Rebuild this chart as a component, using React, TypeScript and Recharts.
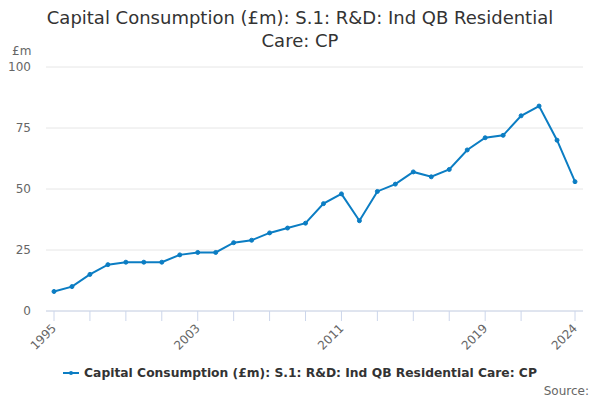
import React from "react";
import { LineChart, Line, XAxis, YAxis, CartesianGrid } from "recharts";

const years = [
  1995, 1996, 1997, 1998, 1999, 2000, 2001, 2002, 2003, 2004,
  2005, 2006, 2007, 2008, 2009, 2010, 2011, 2012, 2013, 2014,
  2015, 2016, 2017, 2018, 2019, 2020, 2021, 2022, 2023, 2024,
];
const values = [
  8, 10, 15, 19, 20, 20, 20, 23, 24, 24,
  28, 29, 32, 34, 36, 44, 48, 37, 49, 52,
  57, 55, 58, 66, 71, 72, 80, 84, 70, 53,
];
const xTicks = [1995, 1997, 1999, 2001, 2003, 2005, 2007, 2009, 2011, 2013, 2015, 2017, 2019, 2021, 2024];
const xLabels = [1995, 2003, 2011, 2019, 2024];
const yTicks = [0, 25, 50, 75, 100];

const SERIES = "Capital Consumption (£m): S.1: R&D: Ind QB Residential Care: CP";
const BLUE = "#0b7dc3";
const FONT = "'DejaVu Sans', sans-serif";

const data = years.map((y, i) => ({ year: y, value: values[i] }));

function XTick(props: any) {
  const { x, y, payload } = props;
  const show = xLabels.includes(payload.value);
  return (
    <g>
      <line x1={x} y1={y - 8} x2={x} y2={y + 2} stroke="#ccd6eb" />
      {show && (
        <text
          x={x + 3}
          y={y + 10}
          transform={`rotate(-45, ${x + 3}, ${y + 10})`}
          textAnchor="end"
          fontSize={12}
          fill="#666"
          fontFamily={FONT}
        >
          {payload.value}
        </text>
      )}
    </g>
  );
}

export default function App() {
  return (
    <div style={{ position: "absolute", left: 0, top: 0, width: 600, height: 400, background: "#fff", fontFamily: FONT }}>
      <div style={{ position: "absolute", top: 6, left: 0, width: 600, textAlign: "center", fontSize: 18, lineHeight: "23px", color: "#333" }}>
        Capital Consumption (£m): S.1: R&amp;D: Ind QB Residential
        <br />
        Care: CP
      </div>
      <div style={{ position: "absolute", top: 44, left: 12, fontSize: 12, color: "#666" }}>£m</div>
      <LineChart width={600} height={400} data={data} margin={{ top: 67, right: 17, bottom: 59, left: 0 }}>
        <CartesianGrid vertical={false} stroke="#e6e6e6" />
        <XAxis
          dataKey="year"
          type="number"
          domain={[1995, 2024]}
          ticks={xTicks}
          interval={0}
          height={30}
          padding={{ left: 8, right: 8 }}
          stroke="#ccd6eb"
          tickLine={false}
          tickSize={0}
          tickMargin={8}
          tick={<XTick />}
        />
        <YAxis
          width={46}
          domain={[0, 100]}
          ticks={yTicks}
          axisLine={false}
          tickLine={false}
          tickSize={0}
          tickMargin={15}
          tick={{ fontSize: 12, fill: "#666", fontFamily: FONT }}
        />
        <Line
          type="linear"
          dataKey="value"
          stroke={BLUE}
          strokeWidth={2}
          dot={{ r: 2, fill: BLUE, stroke: BLUE, strokeWidth: 1 }}
          isAnimationActive={false}
        />
      </LineChart>
      <div style={{ position: "absolute", top: 366, left: 0, width: 600, display: "flex", justifyContent: "center", alignItems: "center", fontSize: 12.3, fontWeight: "bold", color: "#333" }}>
        <svg width={16} height={10} style={{ marginRight: 5 }}>
          <line x1={0} y1={5} x2={16} y2={5} stroke={BLUE} strokeWidth={2} />
          <circle cx={8} cy={5} r={2} fill={BLUE} />
        </svg>
        {SERIES}
      </div>
      <div style={{ position: "absolute", top: 384, right: 11, fontSize: 12, color: "#666" }}>Source:</div>
    </div>
  );
}
